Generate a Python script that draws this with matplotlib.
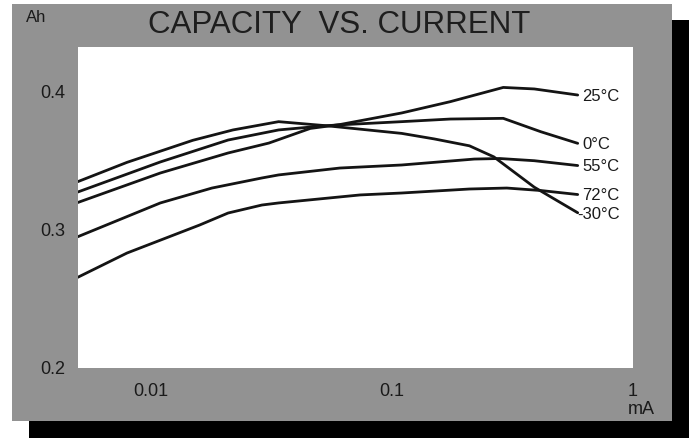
import matplotlib
matplotlib.use("Agg")
import matplotlib.pyplot as plt
from matplotlib.patches import Rectangle
from matplotlib.ticker import NullLocator

plt.rcParams['font.family'] = ['Liberation Sans', 'DejaVu Sans']

# ---- data (current in mA, capacity in Ah) ----
x_m30 = [0.005, 0.008, 0.015, 0.022, 0.034, 0.054, 0.11, 0.15, 0.21, 0.265, 0.39, 0.59]
y_m30 = [0.335, 0.349, 0.365, 0.3725, 0.3785, 0.3755, 0.370, 0.366, 0.361, 0.353, 0.331, 0.3125]

x_0 = [0.005, 0.011, 0.021, 0.034, 0.052, 0.061, 0.11, 0.175, 0.29, 0.415, 0.59]
y_0 = [0.3275, 0.3493, 0.3652, 0.3725, 0.3754, 0.3762, 0.3785, 0.3804, 0.3809, 0.3712, 0.3628]

x_25 = [0.005, 0.011, 0.021, 0.031, 0.046, 0.061, 0.11, 0.175, 0.29, 0.39, 0.59]
y_25 = [0.3199, 0.3413, 0.3558, 0.3630, 0.3736, 0.3764, 0.3848, 0.3930, 0.4033, 0.4022, 0.3978]

x_55 = [0.005, 0.011, 0.018, 0.029, 0.034, 0.061, 0.11, 0.22, 0.28, 0.39, 0.59]
y_55 = [0.2951, 0.3196, 0.3304, 0.3377, 0.3399, 0.3449, 0.3471, 0.3514, 0.3518, 0.3502, 0.3467]

x_72 = [0.005, 0.008, 0.016, 0.021, 0.029, 0.034, 0.074, 0.11, 0.21, 0.30, 0.415, 0.59]
y_72 = [0.2657, 0.2833, 0.3036, 0.3123, 0.3181, 0.3196, 0.3254, 0.3268, 0.3297, 0.3304, 0.3286, 0.3257]

series_labels = ["-30°C", "0°C", "25°C", "55°C", "72°C"]
series_x = [x_m30, x_0, x_25, x_55, x_72]
series_y = [y_m30, y_0, y_25, y_55, y_72]

x_ticks = [0.01, 0.1, 1]
x_tick_labels = ["0.01", "0.1", "1"]
y_ticks = [0.2, 0.3, 0.4]
y_tick_labels = ["0.2", "0.3", "0.4"]

W, H = 689, 438
fig = plt.figure(figsize=(W / 100, H / 100), dpi=100)
fig.patch.set_facecolor('white')

# drop shadow and gray panel
fig.patches.append(Rectangle((29 / W, 0), 660 / W, 418 / H, transform=fig.transFigure,
                             facecolor='black', edgecolor='none', zorder=-3))
fig.patches.append(Rectangle((12 / W, 17 / H), 660 / W, 417 / H, transform=fig.transFigure,
                             facecolor='#929292', edgecolor='none', zorder=-2))

ax = fig.add_axes([77.7 / W, 70 / H, 555.3 / W, 321 / H])
ax.set_zorder(2)
ax.set_facecolor('white')
ax.set_xscale('log')
ax.set_xlim(0.005, 1)
ax.set_ylim(0.2, 0.4326)
for sp in ax.spines.values():
    sp.set_visible(False)

ax.set_xticks(x_ticks)
ax.set_xticklabels(x_tick_labels)
ax.set_yticks(y_ticks)
ax.set_yticklabels(y_tick_labels)
ax.xaxis.set_minor_locator(NullLocator())
ax.yaxis.set_minor_locator(NullLocator())
ax.tick_params(axis='x', length=0, labelsize=13, pad=11, colors='#1a1a1a')
ax.tick_params(axis='y', length=0, labelsize=13, pad=9, colors='#1a1a1a')

for lab, xs, ys in zip(series_labels, series_x, series_y):
    ax.plot(xs, ys, color='#141414', lw=2.0, solid_joinstyle='round', solid_capstyle='round')
    off = (0, -1.2) if lab.startswith('-') else (3.5, -1.0)
    ax.annotate(lab, xy=(xs[-1], ys[-1]), xytext=off, textcoords='offset points',
                ha='left', va='center', fontsize=12, color='#1a1a1a', annotation_clip=False)

fig.text(339 / W, 1 - 25 / H, "CAPACITY  VS. CURRENT", ha='center', va='center',
         fontsize=22.5, color='#1e1e1e', zorder=5)
fig.text(36 / W, 1 - 18 / H, "Ah", ha='center', va='center', fontsize=12, color='#1a1a1a', zorder=5)
fig.text(641 / W, 1 - 410 / H, "mA", ha='center', va='center', fontsize=13, color='#1a1a1a', zorder=5)

fig.savefig('out.png', dpi=100, facecolor=fig.get_facecolor())
